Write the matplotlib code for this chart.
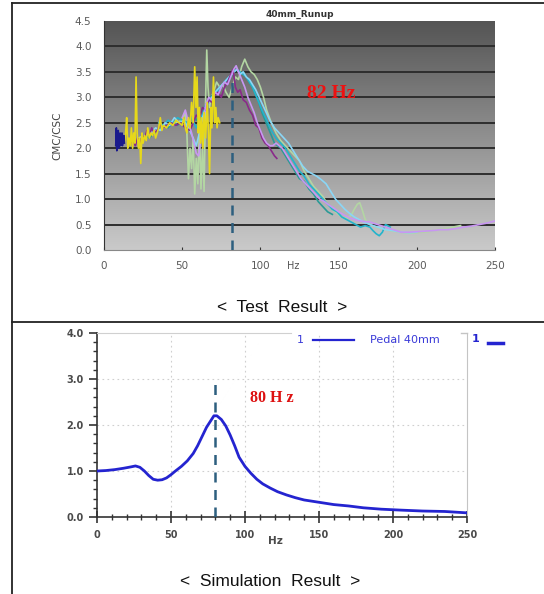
import numpy as np
import matplotlib
matplotlib.use('Agg')
import matplotlib.pyplot as plt
from matplotlib.colors import LinearSegmentedColormap
from matplotlib.lines import Line2D

# ---- test result (top) ----
nv_x = [7.5, 7.9, 8.2, 8.5, 8.8, 9.1, 9.4, 9.7, 10.0, 10.3, 10.6, 10.9, 11.2, 11.5, 11.8, 12.1, 12.4, 12.7, 13.0]
nv_y = [2.05, 2.4, 1.95, 2.3, 2.1, 2.35, 2.0, 2.25, 2.1, 2.3, 2.05, 2.2, 2.1, 2.3, 2.05, 2.2, 2.15, 2.25, 2.1]

ye_x = [13, 13.8, 14.5, 15.2, 16, 16.8, 17.5, 18.3, 19, 19.8, 20.5, 21.2, 22, 22.8, 23.5, 24.3, 25, 26, 27, 28,
        29, 30, 31, 32, 33, 34, 35, 36, 37, 38, 40, 42, 44, 46, 48, 50, 51, 52, 53, 54,
        55, 56, 57, 58, 58.8, 59.5, 60.3, 61, 61.8, 62.5, 63.3, 64, 65, 66, 66.8, 67.5, 68.3, 69, 70, 70.8,
        71.5, 72.3, 73, 74]
ye_y = [2.1, 2.3, 2.6, 2.0, 2.2, 2.05, 2.4, 2.0, 2.3, 2.1, 3.4, 2.3, 2.0, 2.2, 1.7, 2.3, 2.1, 2.25, 2.15, 2.4,
        2.2, 2.3, 2.25, 2.35, 2.2, 2.3, 2.4, 2.6, 2.35, 2.45, 2.4, 2.5, 2.45, 2.55, 2.5, 2.45, 2.6, 2.4, 2.3, 2.6,
        2.4, 2.9, 2.5, 3.6, 2.8, 3.4, 2.3, 2.8, 2.1, 2.6, 2.0, 2.7, 2.2, 2.9, 2.3, 1.5, 2.8, 2.4, 3.4, 2.5,
        2.8, 2.4, 2.6, 2.5]

lg_x = [22, 26, 30, 34, 38, 42, 46, 50, 52, 53, 54, 55, 56, 57, 58, 59, 60, 61, 62, 63,
        64, 65, 65.7, 66.5, 67.5, 68.5, 70, 72, 74, 76, 78, 80, 82, 84, 86, 88, 90, 92, 94, 96,
        98, 100, 102, 104, 107, 110, 113, 116, 119, 122, 125, 128, 131, 134, 137, 140, 143, 146, 149, 152,
        155, 158, 160, 162, 163.5, 165, 167, 170, 174, 178, 183, 188, 193, 198, 203, 208, 213, 218, 223, 228]
lg_y = [2.2, 2.25, 2.3, 2.35, 2.4, 2.45, 2.5, 2.55, 2.7, 2.3, 1.4, 2.0, 1.6, 2.2, 1.1, 1.8, 1.3, 2.4, 1.2, 2.0,
        1.15, 3.0, 3.93, 3.2, 2.8, 3.0, 3.1, 3.3, 3.2, 3.25, 3.1, 3.0, 3.2, 3.4, 3.35, 3.6, 3.75, 3.6, 3.5, 3.45,
        3.35, 3.2, 3.0, 2.75, 2.5, 2.3, 2.15, 2.05, 1.95, 1.85, 1.75, 1.55, 1.4, 1.25, 1.15, 1.05, 0.9, 0.8, 0.72, 0.65,
        0.62, 0.68, 0.8, 0.9, 0.93, 0.8, 0.6, 0.5, 0.45, 0.42, 0.38, 0.36, 0.34, 0.33, 0.35, 0.36, 0.4, 0.42, 0.45, 0.48]

pu_x = [17, 18.5, 20, 21.5, 23, 24.5, 26, 27.5, 29, 30.5, 32, 34, 36, 38, 40, 43, 46, 49, 52, 55,
        57, 59, 61, 63, 65, 67, 69, 71, 73, 75, 77, 79, 81, 82.5, 84, 85.5, 87, 89, 91, 93,
        95, 97, 99, 101, 103, 105, 107, 109, 110.5]
pu_y = [2.1, 2.15, 2.05, 2.2, 2.1, 2.25, 2.2, 2.35, 2.25, 2.4, 2.3, 2.35, 2.45, 2.4, 2.45, 2.5, 2.45, 2.5, 2.4, 2.35,
        2.5, 2.65, 2.6, 2.8, 2.75, 2.95, 2.9, 3.05, 3.1, 3.0, 3.2, 3.3, 3.45, 3.55, 3.2, 3.1, 3.15, 2.95, 2.9, 2.75,
        2.65, 2.45, 2.4, 2.2, 2.1, 2.05, 1.95, 1.85, 1.8]

te_x = [20, 23, 26, 29, 32, 35, 38, 41, 44, 47, 50, 53, 56, 59, 62, 65, 68, 71, 74, 77,
        80, 83, 85, 87, 89, 91, 93, 95, 97, 99, 101, 103, 105, 107, 109, 111, 113, 116, 119, 122,
        125, 128, 131, 134, 137, 140, 143, 146]
te_y = [2.15, 2.1, 2.25, 2.2, 2.3, 2.35, 2.45, 2.4, 2.5, 2.45, 2.55, 2.5, 2.6, 2.55, 2.7, 2.85, 3.0, 3.1, 3.2, 3.3,
        3.35, 3.5, 3.55, 3.45, 3.5, 3.4, 3.3, 3.2, 3.05, 2.9, 2.7, 2.55, 2.4, 2.25, 2.1, 2.05, 2.0, 1.85, 1.7, 1.55,
        1.4, 1.35, 1.2, 1.1, 0.95, 0.85, 0.75, 0.7]

dc_x = [35, 38, 41, 44, 47, 50, 53, 56, 59, 62, 65, 68, 71, 74, 77, 80, 83, 85, 87, 89,
        91, 93, 95, 97, 99, 101, 104, 107, 110, 113, 116, 119, 122, 125, 128, 131, 134, 137, 140, 143,
        146, 149, 152, 155, 158, 161, 164, 167, 170, 172, 174, 176, 178, 180, 183]
dc_y = [2.5, 2.45, 2.55, 2.5, 2.6, 2.55, 2.5, 2.6, 2.4, 2.6, 2.8, 2.95, 3.05, 3.15, 3.3, 3.4, 3.5, 3.55, 3.5, 3.45,
        3.4, 3.3, 3.2, 3.05, 2.9, 2.75, 2.55, 2.35, 2.2, 2.1, 2.0, 1.85, 1.7, 1.55, 1.45, 1.3, 1.2, 1.1, 1.0, 0.9,
        0.8, 0.75, 0.65, 0.6, 0.55, 0.5, 0.45, 0.48, 0.45, 0.38, 0.32, 0.28, 0.35, 0.5, 0.45]

sk_x = [30, 33, 36, 39, 42, 45, 48, 51, 54, 57, 59, 61, 63, 65, 68, 71, 74, 77, 80, 83,
        85, 87, 89, 91, 93, 95, 97, 100, 103, 106, 109, 112, 115, 118, 121, 124, 127, 130, 133, 136,
        139, 142, 145, 148, 151, 154, 157, 160, 163, 166, 170, 175, 180, 185, 190, 195, 200]
sk_y = [2.3, 2.4, 2.35, 2.5, 2.45, 2.6, 2.5, 2.55, 2.4, 2.2, 2.05, 2.3, 2.6, 2.8, 2.95, 3.1, 3.2, 3.3, 3.4, 3.5,
        3.55, 3.45, 3.5, 3.4, 3.35, 3.25, 3.15, 2.95, 2.75, 2.55, 2.4, 2.3, 2.2, 2.1, 1.95, 1.8, 1.65, 1.55, 1.5, 1.45,
        1.38, 1.3, 1.15, 1.0, 0.9, 0.8, 0.72, 0.65, 0.6, 0.55, 0.5, 0.45, 0.4, 0.38, 0.35, 0.34, 0.35]

la_x = [50, 52, 54, 56, 57.5, 59, 60.5, 62, 63.5, 65, 67, 69, 71, 73, 75, 77, 79, 81, 83, 84.5,
        86, 88, 90, 92, 94, 96, 98, 100, 102, 104, 106, 108, 110, 112, 114, 117, 120, 123, 126, 129,
        132, 135, 138, 141, 144, 147, 150, 154, 158, 162, 166, 170, 175, 180, 185, 190, 195, 200, 205, 210,
        215, 220, 225, 230, 235, 240, 245, 250]
la_y = [2.6, 2.75, 2.5, 2.3, 2.1, 1.9, 1.85, 2.2, 2.5, 2.85, 3.0, 2.95, 3.1, 3.05, 3.2, 3.3, 3.25, 3.4, 3.55, 3.62,
        3.5, 3.35, 3.2, 3.0, 2.85, 2.7, 2.5, 2.35, 2.2, 2.1, 2.05, 2.05, 2.1, 2.05, 2.0, 1.85, 1.7, 1.55, 1.4, 1.3,
        1.2, 1.1, 1.0, 0.95, 0.88, 0.82, 0.75, 0.68, 0.62, 0.58, 0.56, 0.55, 0.5, 0.45, 0.4, 0.35, 0.35, 0.36, 0.37, 0.38,
        0.4, 0.4, 0.42, 0.45, 0.47, 0.5, 0.53, 0.57]

test_series = [
    (lg_x, lg_y, '#b3d6a3'),
    (te_x, te_y, '#2a9a96'),
    (dc_x, dc_y, '#22b4cc'),
    (sk_x, sk_y, '#8ad6f6'),
    (pu_x, pu_y, '#8a2a8a'),
    (la_x, la_y, '#c896f2'),
    (ye_x, ye_y, '#e6d81a'),
    (nv_x, nv_y, '#1a1a8c'),
]
test_peak = 82

# ---- simulation result (bottom) ----
sim_x = [0, 6, 12, 18, 23, 26, 29, 32, 35, 38, 41, 44, 47, 50, 53, 57, 61, 65, 68, 71,
         74, 77, 79, 81, 84, 87, 90, 93, 96, 100, 104, 108, 112, 117, 122, 128, 134, 140, 150, 160,
         170, 180, 192, 205, 220, 235, 245, 250]
sim_y = [1.0, 1.01, 1.03, 1.06, 1.09, 1.11, 1.08, 1.0, 0.9, 0.82, 0.8, 0.81, 0.85, 0.92, 1.0, 1.1, 1.22, 1.38, 1.55, 1.75,
         1.95, 2.1, 2.2, 2.2, 2.12, 1.98, 1.78, 1.55, 1.3, 1.1, 0.95, 0.82, 0.72, 0.63, 0.55, 0.48, 0.42, 0.37, 0.32, 0.27,
         0.24, 0.2, 0.17, 0.15, 0.13, 0.12, 0.1, 0.09]
sim_peak = 80

fig = plt.figure(figsize=(5.44, 5.94), dpi=100)
W, H = 544, 594

def box(l, t, r, b):
    return [l / W, 1 - b / H, (r - l) / W, (b - t) / H]

# outer table lines
for (x0, y0, x1, y1) in [(12, 3, 544, 3), (12, 3, 12, 594), (12, 322, 544, 322)]:
    fig.add_artist(Line2D([x0 / W, x1 / W], [1 - y0 / H, 1 - y1 / H], color='#222222', lw=1.3))

# top panel
ax1 = fig.add_axes(box(104, 21, 495, 250))
grad = np.linspace(0, 1, 256)[:, None]
cm = LinearSegmentedColormap.from_list('g', ['#cacaca', '#545454'])
ax1.imshow(grad, extent=[0, 250, 0, 4.5], origin='lower', cmap=cm, aspect='auto', zorder=0)
ax1.set_xlim(0, 250)
ax1.set_ylim(0, 4.5)
ax1.set_yticks(np.arange(0, 4.51, 0.5))
ax1.set_xticks(np.arange(0, 251, 50))
ax1.set_yticklabels(['%.1f' % v for v in np.arange(0, 4.51, 0.5)])
ax1.grid(axis='y', color='#2e2e2e', lw=1.4, zorder=1)
ax1.get_ygridlines()[-1].set_visible(False)
ax1.get_ygridlines()[0].set_visible(False)
ax1.tick_params(axis='y', length=0, pad=9, labelsize=7.5, labelcolor='#5a5a5a')
ax1.tick_params(axis='x', length=2, direction='in', pad=8, labelsize=7.5, labelcolor='#5a5a5a', color='#333333')
for s in ['top', 'right']:
    ax1.spines[s].set_visible(False)
ax1.spines['left'].set_color('#333333')
ax1.spines['bottom'].set_color('#888888')

for xs, ys, c in test_series:
    ax1.plot(xs, ys, color=c, lw=1.2, zorder=3)
ax1.vlines(test_peak, 0, 3.3, colors='#2d5f7f', linestyles=(0, (4, 3)), lw=1.8, zorder=4)
ax1.text(145, 3.08, '%d Hz' % test_peak, color='#ee1111', fontsize=14, fontweight='bold',
         family='Liberation Serif', ha='center', va='center', zorder=5)
ax1.set_title('40mm_Runup', fontsize=6.5, fontweight='bold', color='#333333', pad=3)
ax1.text(0.483, -0.072, 'Hz', transform=ax1.transAxes, fontsize=7, color='#555555', ha='center', va='center')
fig.text(57 / W, 1 - 136 / H, 'CMC/CSC', rotation=90, fontsize=7.5, color='#444444', ha='center', va='center')

fig.text(282 / W, 1 - 308 / H, '<  Test  Result  >', fontsize=12.5, family='Liberation Sans',
         ha='center', va='center', color='#111111')

# bottom panel
ax2 = fig.add_axes(box(97, 333, 467, 517))
ax2.set_xlim(0, 250)
ax2.set_ylim(0, 4.0)
ax2.set_xticks(np.arange(0, 251, 50))
ax2.set_xticks(np.arange(0, 251, 10), minor=True)
ax2.set_yticks(np.arange(0, 4.01, 1.0))
ax2.set_yticks(np.arange(0, 4.01, 0.2), minor=True)
ax2.set_yticklabels(['%.1f' % v for v in np.arange(0, 4.01, 1.0)])
ax2.grid(which='major', color='#cfcfcf', lw=0.8, linestyle=(0, (1.5, 3)))
for g in ax2.get_xgridlines()[:1] + ax2.get_xgridlines()[-1:] + ax2.get_ygridlines()[:1] + ax2.get_ygridlines()[-1:]:
    g.set_visible(False)
ax2.tick_params(axis='y', which='major', length=6, width=1.2, pad=3.5, labelsize=7, labelcolor='#4a4a4a', color='#333333')
ax2.tick_params(axis='y', which='minor', length=3, width=1, color='#333333')
ax2.tick_params(axis='x', which='major', direction='inout', length=8, width=1.2, pad=5, labelsize=7,
                labelcolor='#4a4a4a', color='#333333')
ax2.tick_params(axis='x', which='minor', direction='inout', length=4, width=1, color='#333333')
for lab in ax2.get_xticklabels() + ax2.get_yticklabels():
    lab.set_fontweight('bold')
ax2.spines['left'].set_color('#333333')
ax2.spines['left'].set_linewidth(1.2)
ax2.spines['bottom'].set_color('#333333')
ax2.spines['bottom'].set_linewidth(1.2)
ax2.spines['right'].set_color('#c4c4c4')
ax2.spines['top'].set_color('#d0d0d0')
ax2.spines['top'].set_bounds(0, 131)

ax2.plot(sim_x, sim_y, color='#2424d0', lw=2.0, zorder=3)
ax2.vlines(sim_peak, 0, 3.0, colors='#2d5f7f', linestyles=(0, (4, 3)), lw=1.8, zorder=4)
ax2.text(118, 2.59, '%d H z' % sim_peak, color='#dd1111', fontsize=11.5, fontweight='bold',
         family='Liberation Serif', ha='center', va='center', zorder=5)
ax2.text(0.481, -0.13, 'Hz', transform=ax2.transAxes, fontsize=7.5, fontweight='bold', color='#4a4a4a',
         ha='center', va='center')

# legend row
ax2.text(0.55, 0.962, '1', transform=ax2.transAxes, fontsize=8, color='#3a3ad8', ha='center', va='center')
ax2.plot([0.584, 0.695], [0.962, 0.962], transform=ax2.transAxes, color='#2424d0', lw=1.6, clip_on=False)
ax2.text(0.738, 0.962, 'Pedal 40mm', transform=ax2.transAxes, fontsize=8, color='#3a3ad8', ha='left', va='center')
ax2.plot([0.985, 1.0], [1.0, 1.0], transform=ax2.transAxes, color='#c4c4c4', lw=1, clip_on=False)
ax2.text(1.022, 0.965, '1', transform=ax2.transAxes, fontsize=8, color='#2424d0', fontweight='bold',
         ha='center', va='center')
ax2.plot([1.057, 1.097], [0.948, 0.948], transform=ax2.transAxes, color='#2424d0', lw=2.5, clip_on=False)

fig.text(270 / W, 1 - 582 / H, '<  Simulation  Result  >', fontsize=12.5, family='Liberation Sans',
         ha='center', va='center', color='#111111')

fig.savefig('out.png', dpi=100)
